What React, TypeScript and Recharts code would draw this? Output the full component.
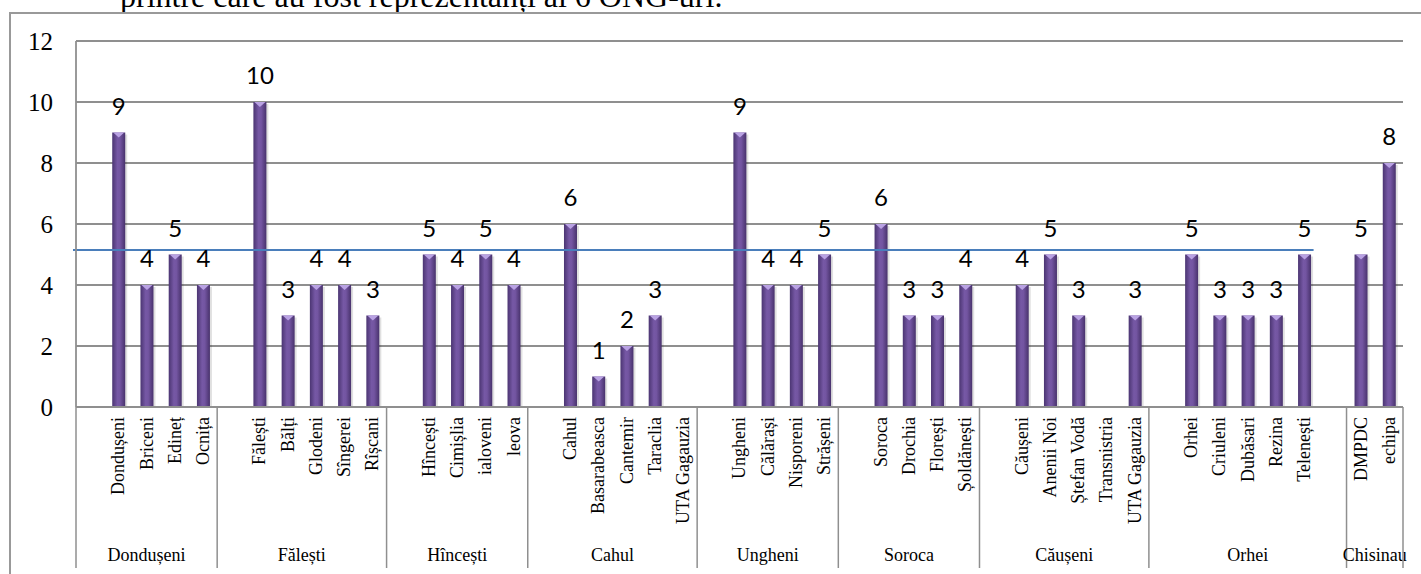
import React from 'react';
import {
  BarChart,
  Bar,
  XAxis,
  YAxis,
  CartesianGrid,
  LabelList,
  ReferenceLine,
} from 'recharts';

// regional groups (second level of the category axis) and how many slots each takes
const GROUPS = ['Dondușeni', 'Fălești', 'Hîncești', 'Cahul', 'Ungheni', 'Soroca', 'Căușeni', 'Orhei', 'Chisinau'];
const GROUP_SIZES = [5, 6, 5, 6, 5, 5, 6, 7, 2];

// districts; '' = empty slot used as spacing in the original sheet
const CATEGORIES = [
  '', 'Dondușeni', 'Briceni', 'Edineț', 'Ocnița',
  '', 'Fălești', 'Bălți', 'Glodeni', 'Sîngerei', 'Rîșcani',
  '', 'Hîncești', 'Cimișlia', 'ialoveni', 'leova',
  '', 'Cahul', 'Basarabeasca', 'Cantemir', 'Taraclia', 'UTA Gagauzia',
  '', 'Ungheni', 'Călărași', 'Nisporeni', 'Strășeni',
  '', 'Soroca', 'Drochia', 'Florești', 'Șoldănești',
  '', 'Căușeni', 'Anenii Noi', 'Ștefan Vodă', 'Transnistria', 'UTA Gagauzia',
  '', 'Orhei', 'Criuleni', 'Dubăsari', 'Rezina', 'Telenești', '',
  'DMPDC', 'echipa',
];

const VALUES = [
  null, 9, 4, 5, 4,
  null, 10, 3, 4, 4, 3,
  null, 5, 4, 5, 4,
  null, 6, 1, 2, 3, 0,
  null, 9, 4, 4, 5,
  null, 6, 3, 3, 4,
  null, 4, 5, 3, 0, 3,
  null, 5, 3, 3, 3, 5, null,
  5, 8,
];

const Y_TICKS = [0, 2, 4, 6, 8, 10, 12];

// hand-drawn blue line in the source document
const LINE_VALUE = 5.15;
const LINE_FROM = 0;
const LINE_TO = 43;

const TOP_TEXT = 'printre care au fost reprezentanți ai 6 ONG-uri.';

const data = CATEGORIES.map((name, i) => ({ key: i, name, value: VALUES[i] }));

const groupStart: Record<number, number> = {};
let acc = 0;
GROUP_SIZES.forEach((s, g) => {
  groupStart[acc] = g;
  acc += s;
});

const CHART_W = 1421;
const CHART_H = 574;
const Y_AXIS_W = 76;
const X_AXIS_H = 167;
const MARGIN = { top: 41, right: 18, left: 0, bottom: 0 };
const PLOT_W = CHART_W - Y_AXIS_W - MARGIN.right;

const SERIF = 'Liberation Serif';
const GRID = '#8f8f8f';

const renderCategoryTick = (props: any) => {
  const { x, y, payload } = props;
  const i = Number(payload.value);
  const step = PLOT_W / CATEGORIES.length;
  const label = CATEGORIES[i];
  const g = groupStart[i];
  return (
    <g>
      {label ? (
        <text
          transform={`translate(${x},${y + 10}) rotate(-90)`}
          textAnchor="end"
          dy="0.33em"
          fontFamily={SERIF}
          fontSize={18}
          fill="#000"
        >
          {label}
        </text>
      ) : null}
      {g !== undefined ? (
        <g>
          <line x1={x - step / 2} x2={x - step / 2} y1={y} y2={y + 161} stroke={GRID} strokeWidth={1.5} />
          <text
            x={x - step / 2 + (GROUP_SIZES[g] * step) / 2}
            y={y + 154}
            textAnchor="middle"
            fontFamily={SERIF}
            fontSize={18}
            fill="#000"
          >
            {GROUPS[g]}
          </text>
        </g>
      ) : null}
      {i === CATEGORIES.length - 1 ? (
        <line x1={x + step / 2} x2={x + step / 2} y1={y} y2={y + 161} stroke={GRID} strokeWidth={1.5} />
      ) : null}
    </g>
  );
};

const renderValueTick = (props: any) => {
  const { x, y, payload } = props;
  return (
    <text x={x} y={y} dy="0.34em" textAnchor="end" fontFamily="Liberation Serif, serif" fontSize={25} fill="#000">
      {payload.value}
    </text>
  );
};

const renderBarLabel = (props: any) => {
  const { x, y, width, value } = props;
  if (!value) return null;
  return (
    <text x={x + width / 2} y={y - 18} textAnchor="middle" fontFamily="Lato, sans-serif" fontSize={24} fill="#000">
      {value}
    </text>
  );
};

const BarShape = (props: any) => {
  const { x, y, width, height } = props;
  if (!height || height <= 0) return null;
  return (
    <g>
      <rect x={x + 2} y={y + 2} width={width} height={height - 2} fill="#000" opacity={0.12} />
      <rect x={x} y={y} width={width} height={height} fill="url(#barGrad)" />
      <polygon
        points={`${x + 1},${y} ${x + width - 1},${y} ${x + width / 2},${y + 5}`}
        fill="#b9a2e3"
      />
    </g>
  );
};

const LineShape = (props: any) => {
  const { x1, y1, x2, y2 } = props;
  const step = PLOT_W / CATEGORIES.length;
  return <line x1={x1 - step / 2 - 3} y1={y1} x2={x2 + step / 3} y2={y2} stroke="#4a7ebb" strokeWidth={2} />;
};

export default function App() {
  return (
    <div style={{ position: 'absolute', left: 0, top: 0, width: CHART_W, height: CHART_H, overflow: 'hidden', background: '#fff' }}>
      <div
        style={{
          position: 'absolute',
          left: 120,
          top: -24,
          fontFamily: SERIF,
          fontSize: 32,
          lineHeight: '40px',
          whiteSpace: 'nowrap',
          color: '#000',
        }}
      >
        {TOP_TEXT}
      </div>
      <div
        style={{
          position: 'absolute',
          left: 9,
          top: 12,
          width: CHART_W,
          height: CHART_H,
          borderTop: '2px solid #999',
          borderLeft: '2px solid #999',
          background: '#fff',
        }}
      />
      <div style={{ position: 'absolute', left: 0, top: 0 }}>
        <BarChart width={CHART_W} height={CHART_H} data={data} margin={MARGIN} barSize={13}>
          <defs>
            <linearGradient id="barGrad" x1="0" y1="0" x2="1" y2="0">
              <stop offset="0%" stopColor="#4b3572" />
              <stop offset="40%" stopColor="#7658a5" />
              <stop offset="60%" stopColor="#7355a1" />
              <stop offset="100%" stopColor="#48326c" />
            </linearGradient>
          </defs>
          <CartesianGrid horizontal vertical={false} stroke={GRID} strokeWidth={1.8} />
          <XAxis
            dataKey="key"
            type="category"
            interval={0}
            height={X_AXIS_H}
            tickLine={false}
            tickSize={0}
            tickMargin={0}
            axisLine={{ stroke: GRID, strokeWidth: 1.8 }}
            tick={renderCategoryTick}
          />
          <YAxis
            domain={[0, 12]}
            ticks={Y_TICKS}
            width={Y_AXIS_W}
            tickLine={false}
            tickSize={0}
            tickMargin={23}
            axisLine={{ stroke: GRID, strokeWidth: 1.8 }}
            tick={renderValueTick}
          />
          <Bar dataKey="value" isAnimationActive={false} shape={<BarShape />}>
            <LabelList dataKey="value" content={renderBarLabel} />
          </Bar>
          <ReferenceLine
            segment={[
              { x: LINE_FROM, y: LINE_VALUE },
              { x: LINE_TO, y: LINE_VALUE },
            ]}
            shape={<LineShape />}
          />
        </BarChart>
      </div>
    </div>
  );
}
